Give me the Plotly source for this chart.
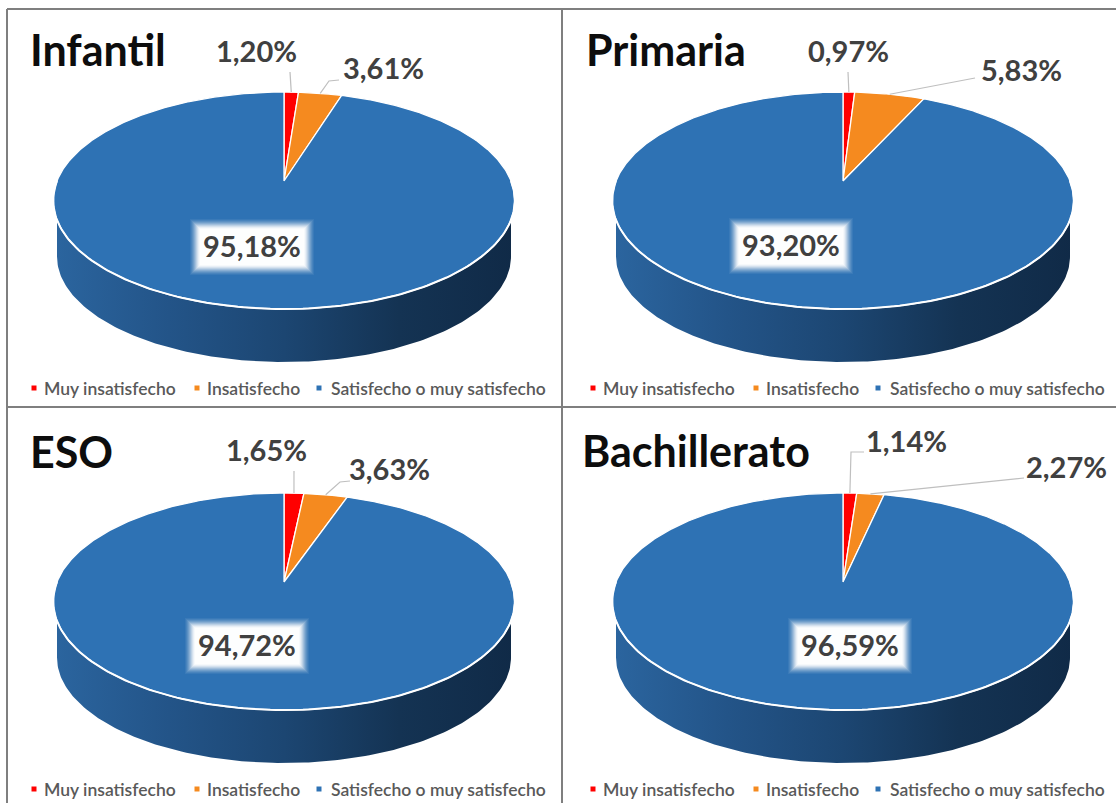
import numpy as np
import plotly.graph_objects as go

W, H = 1116, 803

titles = ["Infantil", "Primaria", "ESO", "Bachillerato"]
categories = ["Muy insatisfecho", "Insatisfecho", "Satisfecho o muy satisfecho"]
infantil = [1.20, 3.61, 95.18]
primaria = [0.97, 5.83, 93.20]
eso = [1.65, 3.63, 94.72]
bachillerato = [1.14, 2.27, 96.59]
series = [infantil, primaria, eso, bachillerato]

colors = ["#ff0000", "#f58a1f", "#2e72b4"]
FONT = "Lato"
TXT = "#404040"

# layout of each panel, in pixels
panels = [
    dict(x0=0, x1=562, y0=0, y1=407, cx=284, cy=181),
    dict(x0=562, x1=W, y0=0, y1=407, cx=843, cy=181),
    dict(x0=0, x1=562, y0=407, y1=H, cx=284, cy=582),
    dict(x0=562, x1=W, y0=407, y1=H, cx=843, cy=582),
]
title_pos = [(28, 49), (584, 49), (28, 451), (580, 450)]
small_pos = [[(256, 50), (383, 67)], [(848, 50), (1021, 69)], [(266, 449), (389, 468)], [(906, 440), (1066, 466)]]
big_pos = [(252, 245), (791, 244), (247, 644), (850, 644)]
glow_pos = [(252, 247), (791, 246), (247, 646), (850, 646)]
leaders = [
    [[(290, 72)], [(329, 81), (339, 80)]],
    [[(848, 72)], [(975, 78)]],
    [[(294, 471)], [(340, 482), (350, 481)]],
    [[(851, 452), (864, 452)], [(1024, 478)]],
]

# perspective of the pie's top face
K, RX, RY = 0.18, 227.0, 105.0
WALL_DY, WALL_RX, WALL_RY = 56.0, 227.0, 105.5
ELL_Y = -19.5


def project(theta):
    u, v = np.sin(theta), np.cos(theta)
    w = 1 + K * v
    return RX * u / w, RY * v / w


fig = go.Figure()
layout = {}
shapes = []
annotations = []


def px(x):
    return x / W


def py(y):
    return 1 - y / H


for i, (p, vals) in enumerate(zip(panels, series)):
    n = "" if i == 0 else str(i + 1)
    xa, ya = f"x{n}", f"y{n}"
    layout[f"xaxis{n}"] = dict(domain=[px(p["x0"]), px(p["x1"])], range=[p["x0"] - p["cx"], p["x1"] - p["cx"]],
                               visible=False, fixedrange=True, anchor=ya)
    layout[f"yaxis{n}"] = dict(domain=[py(p["y1"]), py(p["y0"])], range=[p["cy"] - p["y1"], p["cy"] - p["y0"]],
                               visible=False, fixedrange=True, anchor=xa)

    def dx(x):
        return x - p["cx"]

    def dy(y):
        return p["cy"] - y

    # side wall
    t = np.linspace(np.pi, 2 * np.pi, 160)
    lx = WALL_RX * np.cos(t)
    ly = ELL_Y - WALL_DY + WALL_RY * np.sin(t)
    ut = np.linspace(np.pi / 2, 3 * np.pi / 2, 160)
    ux, uy = project(ut)
    fig.add_trace(go.Scatter(
        x=np.concatenate([lx, ux]), y=np.concatenate([ly, uy]), xaxis=xa, yaxis=ya,
        mode="lines", line=dict(width=0), fill="toself", hoverinfo="skip", showlegend=False,
        fillgradient=dict(type="horizontal", colorscale=[[0, "#2b659f"], [0.25, "#235488"], [0.5, "#1c4672"],
                                                         [0.75, "#143353"], [1, "#102a47"]]),
    ))

    # top face slices
    start = 0.0
    mids = []
    for j, v in enumerate(vals):
        end = start + v / sum(vals) * 2 * np.pi
        arc = np.linspace(start, end, max(4, int(v * 6)))
        ax, ay = project(arc)
        fig.add_trace(go.Scatter(
            x=np.concatenate([[0], ax, [0]]), y=np.concatenate([[0], ay, [0]]), xaxis=xa, yaxis=ya,
            mode="lines", line=dict(color="white", width=1.3), fill="toself", fillcolor=colors[j],
            hoverinfo="skip", showlegend=False, name=categories[j],
        ))
        mids.append((start + end) / 2)
        start = end

    # brighter rim on the front edge
    fig.add_trace(go.Scatter(x=ux, y=uy, xaxis=xa, yaxis=ya, mode="lines",
                             line=dict(color="white", width=2), hoverinfo="skip", showlegend=False))

    # labels
    for j, v in enumerate(vals):
        text = f"{v:.2f}%".replace(".", ",")
        if j < 2:
            x, y = small_pos[i][j]
            mx, my = project(mids[j])
            pts = leaders[i][j]
            fig.add_trace(go.Scatter(
                x=[mx] + [dx(a) for a, b in pts], y=[my] + [dy(b) for a, b in pts], xaxis=xa, yaxis=ya,
                mode="lines", line=dict(color="#bfbfbf", width=1.2), hoverinfo="skip", showlegend=False,
            ))
        else:
            x, y = big_pos[i]
            gx, gy = glow_pos[i]
            for pad, op in [(14, .06), (13, .08), (12, .1), (11, .13), (10, .17), (9, .22), (8, .28),
                            (7, .36), (6, .46), (5, .6), (4, .8)]:
                shapes.append(dict(type="rect", xref=xa, yref=ya, layer="above", line=dict(width=0),
                                   fillcolor="white", opacity=op,
                                   x0=dx(gx - 48 - pad), x1=dx(gx + 48 + pad),
                                   y0=dy(gy - 14 - pad), y1=dy(gy + 14 + pad)))
        annotations.append(dict(text=f"<b>{text}</b>", x=dx(x), y=dy(y), xref=xa, yref=ya, showarrow=False,
                                xanchor="center", yanchor="middle",
                                font=dict(family=FONT, size=29, color=TXT)))

    # title
    tx, ty = title_pos[i]
    annotations.append(dict(text=f"<b>{titles[i]}</b>", x=dx(tx), y=dy(ty), xref=xa, yref=ya, showarrow=False,
                            xanchor="left", yanchor="middle", font=dict(family=FONT, size=43, color="#0d0d0d")))

    # legend row
    for j, (mk, tk) in enumerate([(-250, -242), (-87, -79), (35, 45)]):
        fig.add_trace(go.Scatter(
            x=[mk], y=[-207], xaxis=xa, yaxis=ya, mode="markers",
            marker=dict(symbol="square", size=5, color=colors[j]), hoverinfo="skip", showlegend=False,
        ))
        annotations.append(dict(text=categories[j], x=tk, y=-207, xref=xa, yref=ya, showarrow=False,
                                xanchor="left", yanchor="middle",
                                font=dict(family=FONT, size=17.5, color="#595959", weight=600)))

# panel frame
frame = [(7, 9, W, 9), (7, 9, 7, H), (562, 9, 562, H), (7, 407, W, 407)]
for a, b, c, d in frame:
    shapes.append(dict(type="line", xref="paper", yref="paper", layer="above",
                       x0=px(a), x1=px(c), y0=py(b), y1=py(d), line=dict(color="#7f7f7f", width=2)))

fig.update_layout(width=W, height=H, margin=dict(l=0, r=0, t=0, b=0), paper_bgcolor="white", plot_bgcolor="white",
                  showlegend=False, shapes=shapes, annotations=annotations, **layout)
fig.write_html("out.html", config={"displayModeBar": False},
               post_script="document.body.style.margin='0';document.documentElement.style.overflow='hidden';")
